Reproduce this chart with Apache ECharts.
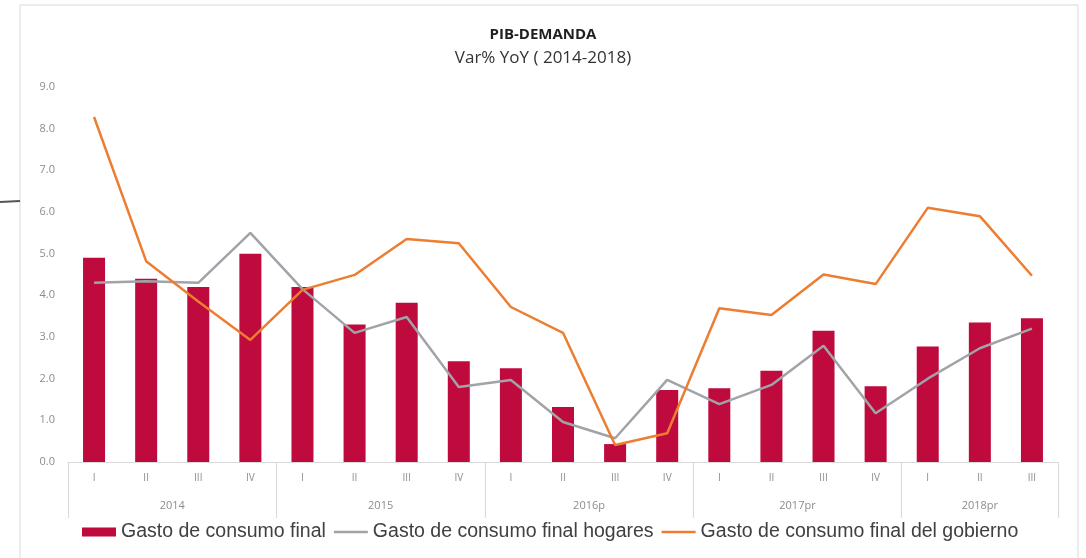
<!DOCTYPE html>
<html>
<head>
<meta charset="utf-8">
<script src="https://cdn.jsdelivr.net/npm/echarts@6/dist/echarts.min.js"></script>
<style>
    html, body { margin: 0; padding: 0; background: #fff; }
    #main { width: 1086px; height: 558px; }
</style>
</head>
<body>
<div id="main"></div>
<script>
    // trimestres y años
    var quarters = ['I','II','III','IV','I','II','III','IV','I','II','III','IV','I','II','III','IV','I','II','III'];
    var years = ['2014','2015','2016p','2017pr','2018pr'];
    var quartersPerYear = [4, 4, 4, 4, 3];

    // Var% YoY
    var consumoFinal = [4.9, 4.4, 4.2, 5.0, 4.2, 3.3, 3.82, 2.42, 2.25, 1.32, 0.43, 1.73, 1.77, 2.19, 3.15, 1.82, 2.77, 3.35, 3.45];
    var consumoHogares = [4.3, 4.34, 4.3, 5.5, 4.15, 3.1, 3.48, 1.8, 1.97, 0.96, 0.57, 1.97, 1.39, 1.85, 2.79, 1.17, 2.0, 2.73, 3.2];
    var consumoGobierno = [8.28, 4.82, 3.85, 2.93, 4.13, 4.49, 5.35, 5.25, 3.72, 3.1, 0.41, 0.69, 3.69, 3.53, 4.5, 4.27, 6.1, 5.9, 4.47];

    var yTicks = [0, 1, 2, 3, 4, 5, 6, 7, 8, 9];

    // limites y centros de cada año sobre el eje
    var yearBounds = [0];
    var yearCenters = [];
    quartersPerYear.forEach(function(n, i){
        var start = yearBounds[i];
        yearBounds.push(start + n);
        yearCenters.push(start + n / 2);
    });

    var lineIcon = 'path://M0,0 L36,0 L36,2.5 L0,2.5 Z';

    var myChart = echarts.init(document.getElementById('main'));
    var option = {
        animation: false,
        backgroundColor: '#fff',
        graphic: [
            {
                type: 'rect',
                shape: { x: 20, y: 5, width: 1058, height: 560 },
                style: { fill: 'none', stroke: '#d9d9d9', lineWidth: 1 }
            },
            {
                type: 'line',
                shape: { x1: 0, y1: 202, x2: 20, y2: 201 },
                style: { stroke: '#555', lineWidth: 2 }
            }
        ],
        title: [
            {
                text: 'PIB-DEMANDA',
                left: 'center',
                top: 22,
                textStyle: { fontFamily: 'Open Sans', fontWeight: 'bold', fontSize: 15, color: '#1f1f1f' }
            },
            {
                text: 'Var% YoY ( 2014-2018)',
                left: 'center',
                top: 45,
                textStyle: { fontFamily: 'Open Sans', fontWeight: 'normal', fontSize: 17, color: '#333' }
            }
        ],
        legend: {
            top: 517,
            left: 77,
            itemWidth: 34,
            itemHeight: 9,
            itemGap: 8,
            textStyle: { fontFamily: 'Liberation Sans', fontSize: 19.5, color: '#404040' },
            data: [
                { name: 'Gasto de consumo final', icon: 'rect' },
                { name: 'Gasto de consumo final hogares', icon: lineIcon },
                { name: 'Gasto de consumo final del gobierno', icon: lineIcon }
            ]
        },
        grid: {
            left: 68,
            right: 28,
            top: 87,
            bottom: 96
        },
        xAxis: [
            {
                type: 'category',
                data: quarters,
                boundaryGap: true,
                axisLine: { lineStyle: { color: '#d9d9d9' } },
                axisTick: { show: false },
                axisLabel: { interval: 0, margin: 11, fontSize: 10, color: '#8c8c8c', fontFamily: 'Open Sans' }
            },
            {
                type: 'value',
                position: 'bottom',
                min: 0,
                max: yearBounds[yearBounds.length - 1],
                axisLine: { show: false },
                splitLine: { show: false },
                axisTick: {
                    show: true,
                    customValues: yearBounds,
                    length: 56,
                    lineStyle: { color: '#d9d9d9' }
                },
                axisLabel: {
                    customValues: yearCenters,
                    margin: 38,
                    fontSize: 11,
                    color: '#8c8c8c',
                    fontFamily: 'Open Sans',
                    formatter: function(v){
                        return years[yearCenters.indexOf(v)];
                    }
                }
            }
        ],
        yAxis: {
            type: 'value',
            min: yTicks[0],
            max: yTicks[yTicks.length - 1],
            interval: 1,
            splitLine: { show: false },
            axisLine: { show: false },
            axisTick: { show: false },
            axisLabel: {
                margin: 13,
                fontSize: 11,
                color: '#8c8c8c',
                fontFamily: 'Open Sans',
                formatter: function(v){ return v.toFixed(1); }
            }
        },
        series: [
            {
                name: 'Gasto de consumo final',
                type: 'bar',
                xAxisIndex: 0,
                barWidth: 22,
                itemStyle: { color: '#be0a3c' },
                data: consumoFinal
            },
            {
                name: 'Gasto de consumo final hogares',
                type: 'line',
                xAxisIndex: 0,
                symbol: 'none',
                lineStyle: { color: '#a0a4a8', width: 2.5 },
                itemStyle: { color: '#a0a4a8' },
                data: consumoHogares
            },
            {
                name: 'Gasto de consumo final del gobierno',
                type: 'line',
                xAxisIndex: 0,
                symbol: 'none',
                lineStyle: { color: '#ed7d31', width: 2.5 },
                itemStyle: { color: '#ed7d31' },
                data: consumoGobierno
            }
        ]
    };
    myChart.setOption(option);
</script>
</body>
</html>
